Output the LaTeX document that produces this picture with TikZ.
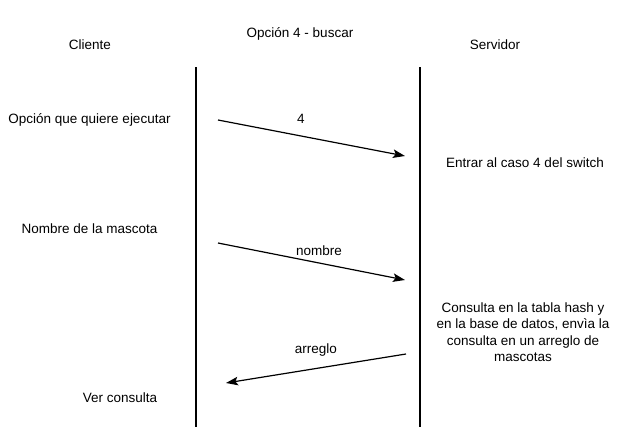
\documentclass[tikz,border=0pt]{standalone}
\usepackage{fontspec}
\setmainfont{Liberation Sans}
\usetikzlibrary{arrows.meta}
\begin{document}
\begin{tikzpicture}[x=1pt,y=-1pt,
  lbl/.style={inner sep=0pt,font=\fontsize{13.5}{16.5}\selectfont,align=center},
  life/.style={line width=1.3pt},
  msg/.style={line width=1.2pt,-{Stealth[length=12pt,width=8.5pt,inset=2.5pt]}}]
\useasboundingbox (0,0) rectangle (625,447);
\node[lbl] (cli) at (90,45) {Cliente};
\node[lbl] (tit) at (300,34) {Opción 4 - buscar};
\node[lbl] (srv) at (495,45) {Servidor};
\coordinate (l1) at (196,67);
\coordinate (l2) at (196,427);
\coordinate (r1) at (420,67);
\coordinate (r2) at (420,427);
\draw[life] (l1) -- (l2);
\draw[life] (r1) -- (r2);
\node[lbl] (t1) at (89.5,120) {Opción que quiere ejecutar};
\node[lbl] (t2) at (89.5,229) {Nombre de la mascota};
\node[lbl] (t3) at (120,398) {Ver consulta};
\node[lbl] (s1) at (525,163) {Entrar al caso 4 del switch};
\node[lbl] (s2) at (523,332) {Consulta en la tabla hash y\\en la base de datos, envìa la\\consulta en un arreglo de\\mascotas};
\coordinate (a1s) at (218,120);
\coordinate (a1e) at (405,156);
\coordinate (a2s) at (218,243);
\coordinate (a2e) at (405,280);
\coordinate (a3s) at (406,354);
\coordinate (a3e) at (226,383);
\draw[msg] (a1s) -- (a1e);
\draw[msg] (a2s) -- (a2e);
\draw[msg] (a3s) -- (a3e);
\node[lbl] (m1) at (301,119) {4};
\node[lbl] (m2) at (319,251) {nombre};
\node[lbl] (m3) at (316,350) {arreglo};
\end{tikzpicture}
\end{document}
